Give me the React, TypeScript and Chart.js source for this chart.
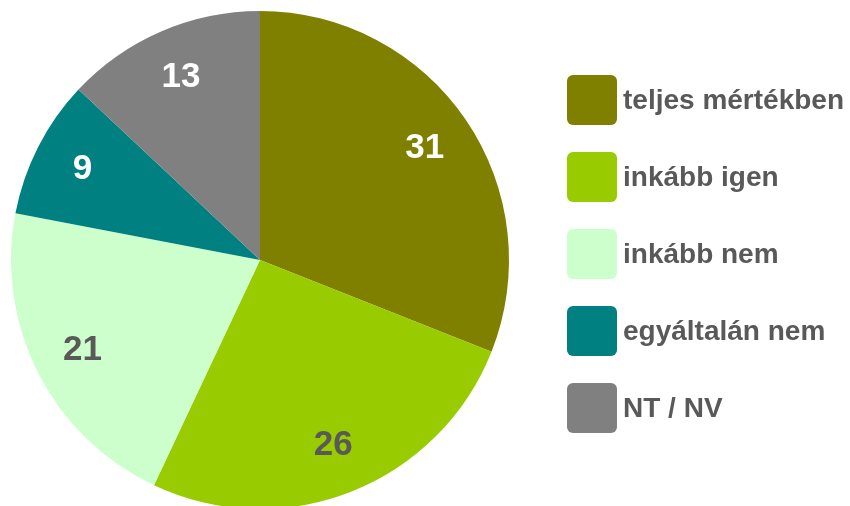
import React, { useEffect, useRef } from "react";
import { Chart, registerables } from "chart.js";

Chart.register(...registerables);

const categories = ["teljes mértékben", "inkább igen", "inkább nem", "egyáltalán nem", "NT / NV"];
const values = [31, 26, 21, 9, 13];
const colors = ["#808000", "#99CC00", "#CCFFCC", "#008080", "#808080"];
const labelColors = ["#FFFFFF", "#595959", "#595959", "#FFFFFF", "#FFFFFF"];

const FONT = "'Liberation Sans', Arial, sans-serif";

const labelsPlugin = {
  id: "sliceLabels",
  afterDatasetsDraw(chart: any) {
    const ctx = chart.ctx;
    const meta = chart.getDatasetMeta(0);
    ctx.save();
    ctx.font = `bold 35px ${FONT}`;
    ctx.textAlign = "center";
    ctx.textBaseline = "middle";
    meta.data.forEach((arc: any, i: number) => {
      const p = arc.getProps(["x", "y", "startAngle", "endAngle", "outerRadius"], true);
      const mid = (p.startAngle + p.endAngle) / 2;
      const r = p.outerRadius * 0.8;
      ctx.fillStyle = labelColors[i];
      ctx.fillText(String(values[i]), p.x + Math.cos(mid) * r, p.y + Math.sin(mid) * r);
    });
    ctx.restore();
  },
};

const legendPlugin = {
  id: "customLegend",
  afterDraw(chart: any) {
    const ctx = chart.ctx;
    ctx.save();
    const x0 = 567;
    const size = 50;
    const y0 = 100;
    const step = 77;
    ctx.font = `bold 28px ${FONT}`;
    ctx.textAlign = "left";
    ctx.textBaseline = "middle";
    categories.forEach((c, i) => {
      const cy = y0 + i * step;
      ctx.fillStyle = colors[i];
      ctx.beginPath();
      (ctx as any).roundRect(x0, cy - size / 2, size, size, 6);
      ctx.fill();
      ctx.fillStyle = "#595959";
      ctx.fillText(c, 623, cy + 1);
    });
    ctx.restore();
  },
};

export default function App() {
  const ref = useRef<HTMLCanvasElement | null>(null);
  useEffect(() => {
    if (!ref.current) return;
    const chart = new Chart(ref.current, {
      type: "pie",
      data: {
        labels: categories,
        datasets: [
          {
            data: values,
            backgroundColor: colors,
            borderWidth: 0,
          },
        ],
      },
      options: {
        responsive: false,
        animation: false,
        layout: { padding: { left: 11, top: 11, right: 341, bottom: 11 } },
        plugins: {
          legend: { display: false },
          tooltip: { enabled: false },
        },
      },
      plugins: [labelsPlugin, legendPlugin],
    });
    return () => chart.destroy();
  }, []);
  return (
    <div style={{ position: "absolute", left: 0, top: 0, width: 850, height: 520, background: "#fff" }}>
      <canvas ref={ref} width={850} height={520} />
    </div>
  );
}
